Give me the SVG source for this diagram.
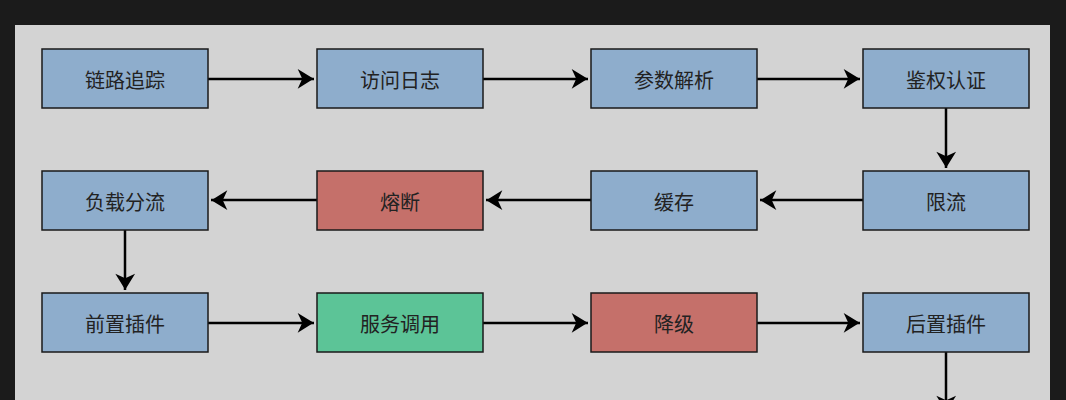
<svg xmlns="http://www.w3.org/2000/svg" width="1066" height="400" viewBox="0 0 1066 400">
<style>
.n rect{stroke:#1a1a1a;stroke-width:1.5}
.b{fill:#8eadcc}.r{fill:#c5706a}.g{fill:#5cc497}
text{font-family:"Noto Sans CJK SC","Noto Sans",sans-serif;font-size:20px;fill:#222;text-anchor:middle;dominant-baseline:central}
.c path{stroke:#000;stroke-width:2.5;fill:none;marker-end:url(#a)}
</style>
<defs><marker id="a" viewBox="0 0 10 10" refX="9" refY="5" markerWidth="8" markerHeight="8" markerUnits="userSpaceOnUse" orient="auto" overflow="visible"><path d="M-12,-8 L9,5 L-12,18 L-6,5 Z" transform="scale(0.95)" fill="#000"/></marker></defs>
<rect width="1066" height="400" fill="#1b1b1b"/>
<rect x="15" y="25" width="1035" height="380" fill="#d3d3d3"/>
<g class="c">
<path d="M208 79H314"/><path d="M483 79H588"/><path d="M757 79H860"/>
<path d="M946 108V168"/>
<path d="M863 200H760"/><path d="M591 200H486"/><path d="M317 200H211"/>
<path d="M125 230V290"/>
<path d="M208 323H314"/><path d="M483 323H588"/><path d="M757 323H860"/>
<path d="M946 352V412"/>
</g>
<g id="n1" class="n"><rect class="b" x="42" y="49" width="166" height="59"/><text x="125" y="79">链路追踪</text></g>
<g id="n2" class="n"><rect class="b" x="317" y="49" width="166" height="59"/><text x="400" y="79">访问日志</text></g>
<g id="n3" class="n"><rect class="b" x="591" y="49" width="166" height="59"/><text x="674" y="79">参数解析</text></g>
<g id="n4" class="n"><rect class="b" x="863" y="49" width="166" height="59"/><text x="946" y="79">鉴权认证</text></g>
<g id="n5" class="n"><rect class="b" x="863" y="171" width="166" height="59"/><text x="946" y="201">限流</text></g>
<g id="n6" class="n"><rect class="b" x="591" y="171" width="166" height="59"/><text x="674" y="201">缓存</text></g>
<g id="n7" class="n"><rect class="r" x="317" y="171" width="166" height="59"/><text x="400" y="201">熔断</text></g>
<g id="n8" class="n"><rect class="b" x="42" y="171" width="166" height="59"/><text x="125" y="201">负载分流</text></g>
<g id="n9" class="n"><rect class="b" x="42" y="293" width="166" height="59"/><text x="125" y="323">前置插件</text></g>
<g id="n10" class="n"><rect class="g" x="317" y="293" width="166" height="59"/><text x="400" y="323">服务调用</text></g>
<g id="n11" class="n"><rect class="r" x="591" y="293" width="166" height="59"/><text x="674" y="323">降级</text></g>
<g id="n12" class="n"><rect class="b" x="863" y="293" width="166" height="59"/><text x="946" y="323">后置插件</text></g>
</svg>
